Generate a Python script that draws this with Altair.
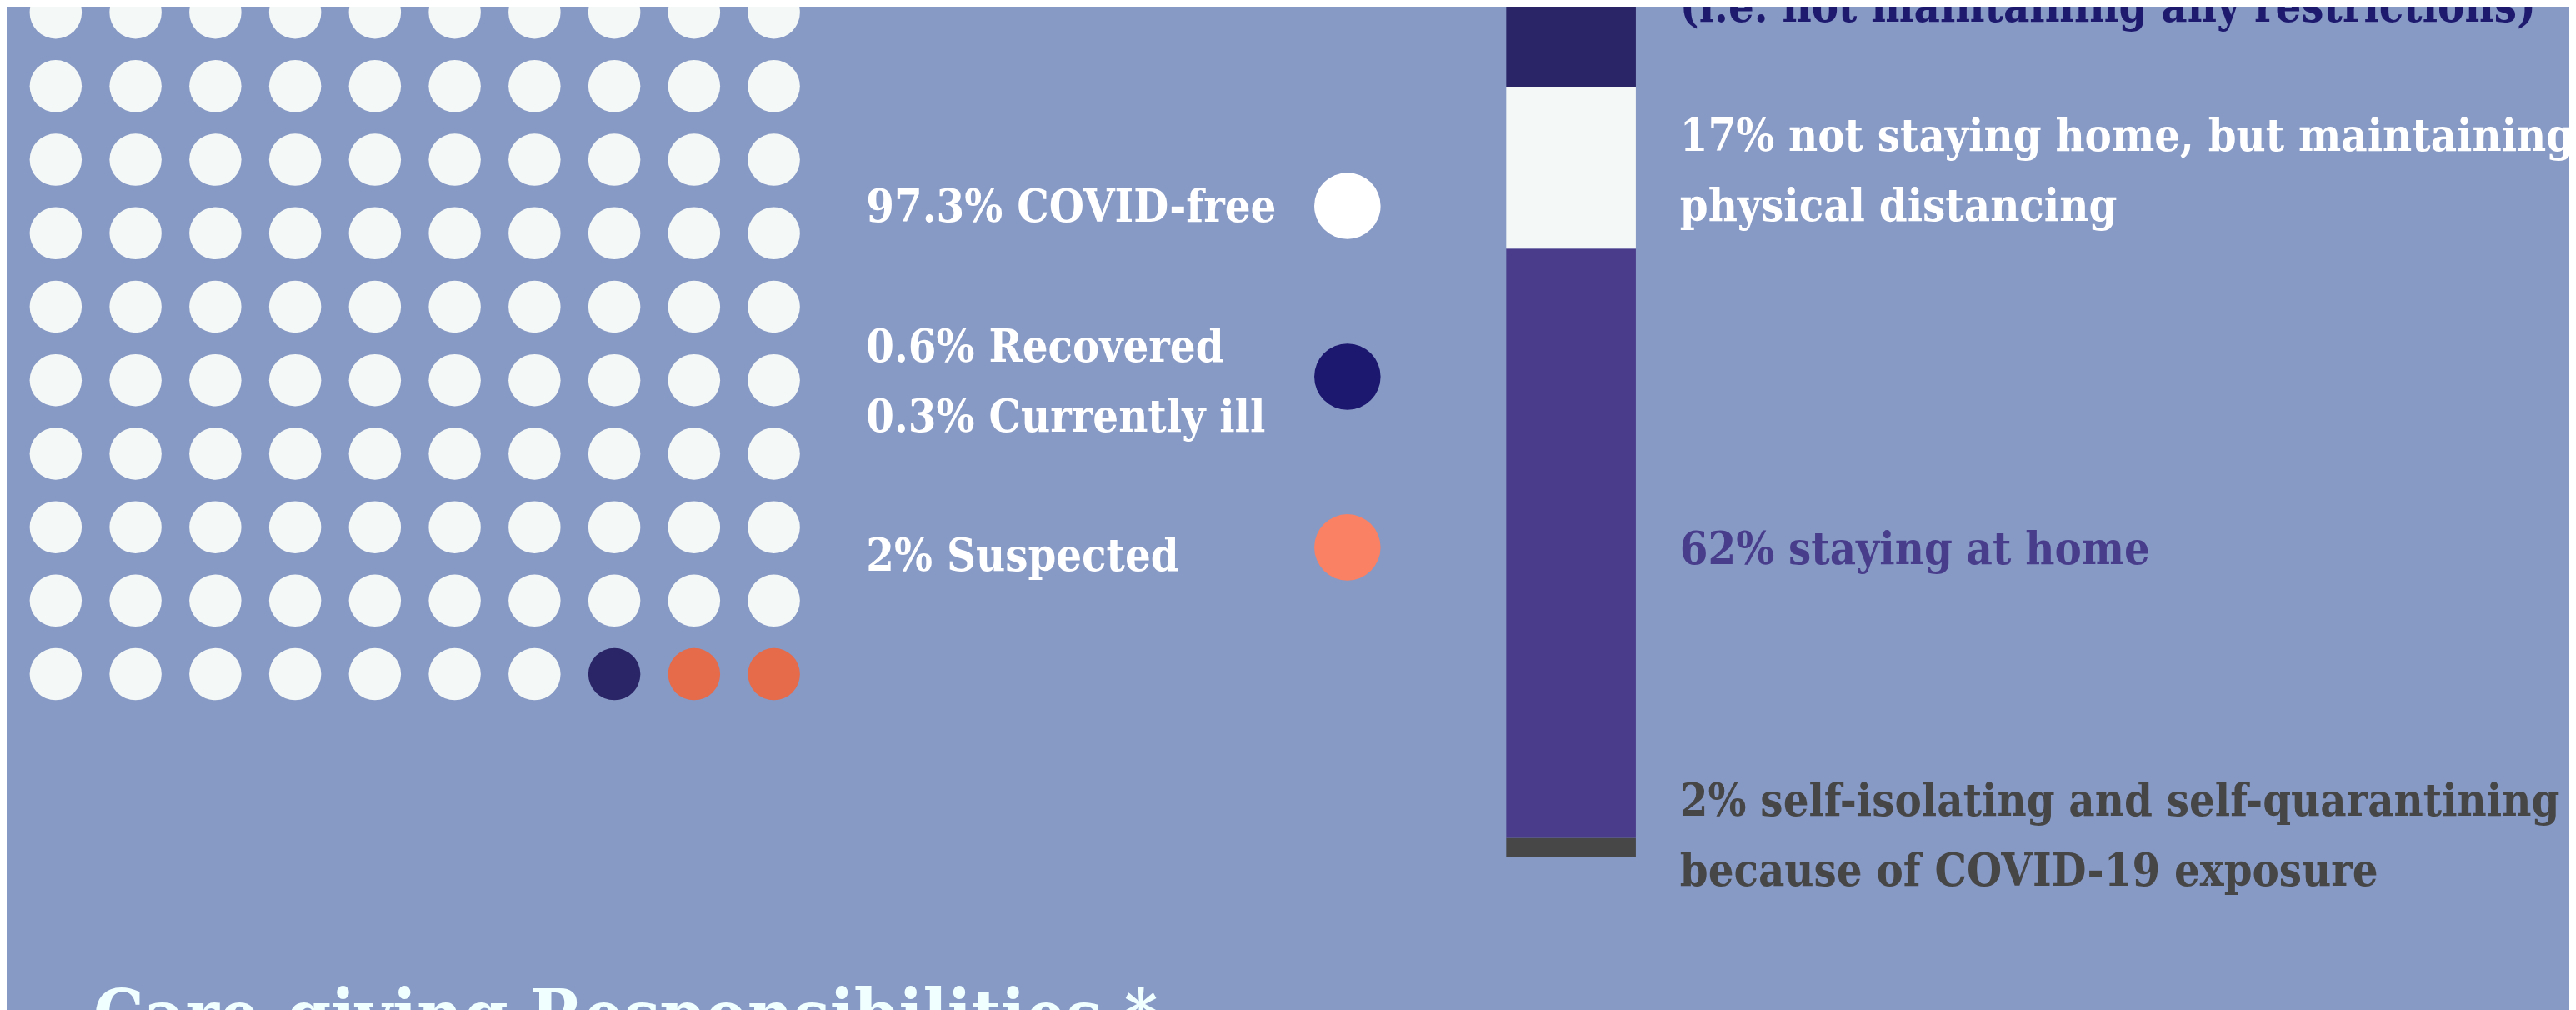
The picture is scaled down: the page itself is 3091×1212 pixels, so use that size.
import altair as alt
import pandas as pd

# ---------------- data ----------------
# waffle (10 x 10 = 100 people)
waffle_categories = ["COVID-free", "Recovered / currently ill", "Suspected"]
waffle_counts = [97, 1, 2]
waffle_colors = ["#F4F8F6", "#2A2566", "#E56B4B"]

# legend next to the waffle
legend_labels = ["97.3% COVID-free", "0.6% Recovered\n0.3% Currently ill", "2% Suspected"]
legend_colors = ["#FFFFFF", "#1C1870", "#FA8164"]

# stacked bar (listed bottom -> top)
bar_categories = ["Self-isolating", "Staying at home", "Physical distancing", "No restrictions"]
bar_values = [2, 62, 17, 19]
bar_colors = ["#474747", "#4A3C8B", "#F4F8F6", "#2A2566"]
bar_labels = [
    "2% self-isolating and self-quarantining\nbecause of COVID-19 exposure",
    "62% staying at home",
    "17% not staying home, but maintaining\nphysical distancing",
    "(i.e. not maintaining any restrictions)",
]
label_colors = ["#464646", "#483D8B", "#FFFFFF", "#1E1B6F"]

title_text = "Care-giving Responsibilities *"

# ---------------- layout / style ----------------
W, H = 3083, 1204
BG = "#8799C5"
FONT = "DejaVu Serif Condensed"
FS = 54
LH = 84

# ---------------- tables ----------------
cells = []
for cat, n in zip(waffle_categories, waffle_counts):
    cells += [cat] * n
waffle_df = pd.DataFrame({
    "cat": cells,
    "col": [i % 10 for i in range(len(cells))],
    "row": [i // 10 for i in range(len(cells))],
})

legend_df = pd.DataFrame({
    "slot": list(range(len(legend_labels))),
    "label": legend_labels,
    "color": legend_colors,
})

ends = pd.Series(bar_values).cumsum()
bar_df = pd.DataFrame({
    "grp": ["behaviour"] * len(bar_values),
    "cat": bar_categories,
    "start": ends - pd.Series(bar_values),
    "end": ends,
    "label": bar_labels,
})
bar_df["mid"] = (bar_df["start"] + bar_df["end"]) / 2

# ---------------- layers ----------------
waffle = alt.Chart(waffle_df).mark_circle(opacity=1, strokeWidth=0, size=3925).encode(
    x=alt.X("col:Q", scale=alt.Scale(domain=[0, 9], range=[59, 923]), axis=None),
    y=alt.Y("row:Q", scale=alt.Scale(domain=[0, 9], range=[5.6, 801.6]), axis=None),
    color=alt.Color("cat:N", scale=alt.Scale(domain=waffle_categories, range=waffle_colors), legend=None),
)

slot_scale = alt.Scale(domain=[0, 2], range=[238, 649])
legend_dots = alt.Chart(legend_df).mark_circle(opacity=1, strokeWidth=0, size=6362).encode(
    x=alt.value(1613),
    y=alt.Y("slot:Q", scale=slot_scale, axis=None),
    color=alt.Color("color:N", scale=None, legend=None),
)

legend_nudge = [3, -34, 12]
legend_layers = []
for i, dy in enumerate(legend_nudge):
    legend_layers.append(
        alt.Chart(legend_df.iloc[[i]]).mark_text(
            align="left", baseline="middle", font=FONT, fontWeight="bold", fontSize=FS,
            lineBreak="\n", lineHeight=84, color="#FFFFFF", dy=dy,
        ).encode(
            x=alt.value(1034),
            y=alt.Y("slot:Q", scale=slot_scale, axis=None),
            text="label:N",
        )
    )

bar_scale = alt.Scale(domain=[0, 100], range=[1021.5, -122.5])
bar = alt.Chart(bar_df).mark_bar(strokeWidth=0).encode(
    x=alt.X("grp:N", scale=alt.Scale(range=[1804, 1960], paddingInner=0, paddingOuter=0), axis=None),
    y=alt.Y("start:Q", scale=bar_scale, axis=None),
    y2="end:Q",
    color=alt.Color("cat:N", scale=alt.Scale(domain=bar_categories, range=bar_colors), legend=None),
)

label_nudge = [-54, 9, -36, 14]
label_layers = []
for i, (col, dy) in enumerate(zip(label_colors, label_nudge)):
    label_layers.append(
        alt.Chart(bar_df.iloc[[i]]).mark_text(
            align="left", baseline="middle", font=FONT, fontWeight="bold", fontSize=FS,
            lineBreak="\n", lineHeight=LH, color=col, dy=dy,
        ).encode(
            x=alt.value(2013),
            y=alt.Y("mid:Q", scale=bar_scale, axis=None),
            text="label:N",
        )
    )

title = alt.Chart(pd.DataFrame({"t": [title_text]})).mark_text(
    align="left", baseline="alphabetic", font=FONT, fontWeight="bold", fontSize=85.5,
    color="#F0FFFF",
).encode(x=alt.value(104), y=alt.value(1243), text="t:N")

chart = alt.layer(
    waffle, legend_dots, *legend_layers, bar, *label_layers, title
).resolve_scale(
    x="independent", y="independent", color="independent"
).properties(
    width=W, height=H, background=BG, padding=0,
    autosize=alt.AutoSizeParams(type="none"),
).configure_view(stroke=None, fill=BG)

chart.save("out.html", embed_options={"renderer": "svg", "actions": False})
